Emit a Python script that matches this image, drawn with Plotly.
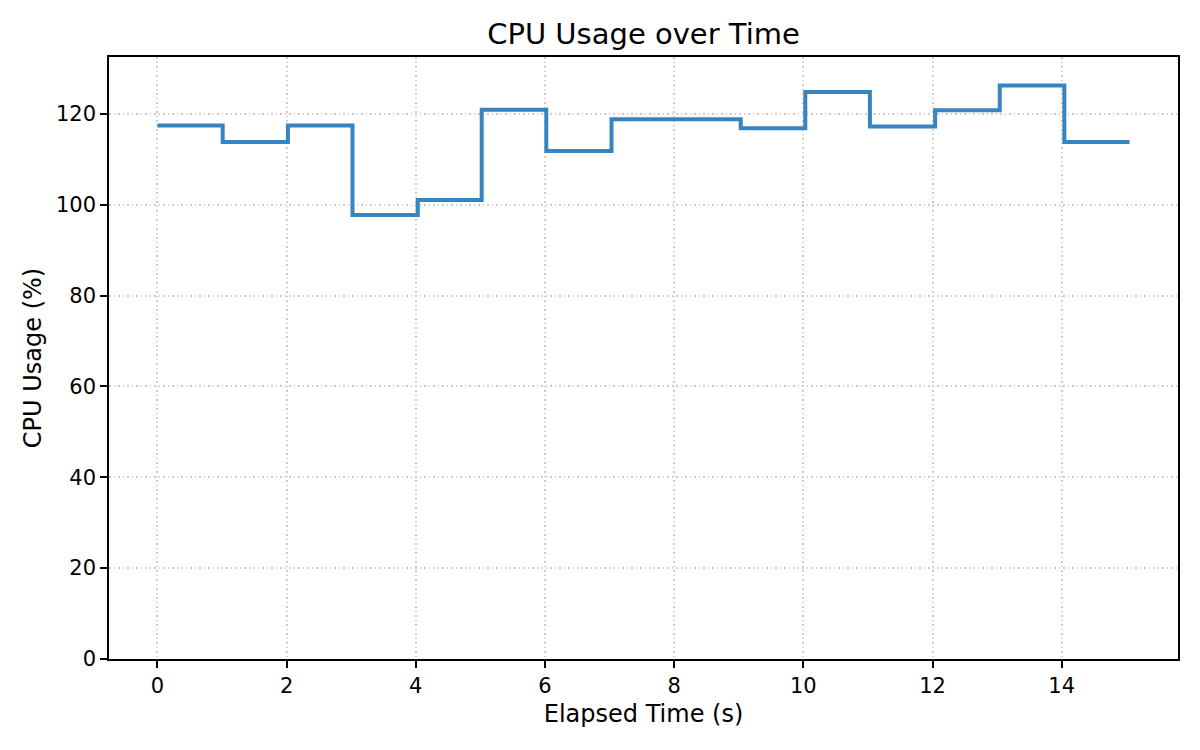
import plotly.graph_objects as go

# elapsed time (s) and cpu usage (%)
elapsed = [0, 1.01, 2.02, 3.02, 4.03, 5.02, 6.02, 7.03, 8.03, 9.03,
           10.03, 11.03, 12.04, 13.04, 14.04, 15.05]
cpu_usage = [117.4, 113.8, 117.4, 97.7, 101.0, 120.9, 111.8, 118.8, 118.8,
             116.8, 124.8, 117.2, 120.8, 126.2, 113.8, 113.8]

x_ticks = [0, 2, 4, 6, 8, 10, 12, 14]
y_ticks = [0, 20, 40, 60, 80, 100, 120]

FONT = "DejaVu Sans"

# page body has an 8px margin, so the figure is drawn 16px smaller
W, H = 1184, 734

fig = go.Figure()

# step line (post)
fig.add_trace(go.Scatter(x=elapsed, y=cpu_usage,
                         mode='lines',
                         line=dict(color='#3785c0', width=4, shape='hv'),
                         name='CPU'))

axis_style = dict(
    showline=True, linecolor='black', linewidth=1.6, mirror=True,
    ticks='outside', ticklen=7, tickwidth=1.6, tickcolor='black',
    showgrid=True, gridcolor='#cccccc', gridwidth=1.5, griddash='1.7px,2.8px',
    zeroline=False,
    tickfont=dict(family=FONT, size=21, color='black'),
)

fig.update_xaxes(range=[-0.75, 15.80], tickvals=x_ticks,
                 title=dict(text='Elapsed Time (s)', standoff=8,
                            font=dict(family=FONT, size=24, color='black')),
                 **axis_style)
fig.update_yaxes(range=[0, 132.5], tickvals=y_ticks,
                 title=dict(text='CPU Usage (%)', standoff=8,
                            font=dict(family=FONT, size=24, color='black')),
                 **axis_style)

fig.update_layout(
    width=W, height=H,
    paper_bgcolor='white', plot_bgcolor='white',
    margin=dict(l=101, r=14, t=49, b=83),
    showlegend=False,
    font=dict(family=FONT, color='black'),
    title=dict(text='CPU Usage over Time', xref='paper', x=0.5, xanchor='center',
               yref='container', y=1 - 26 / H, yanchor='middle',
               font=dict(family=FONT, size=29, color='black')),
)

fig.write_html("out.html")
